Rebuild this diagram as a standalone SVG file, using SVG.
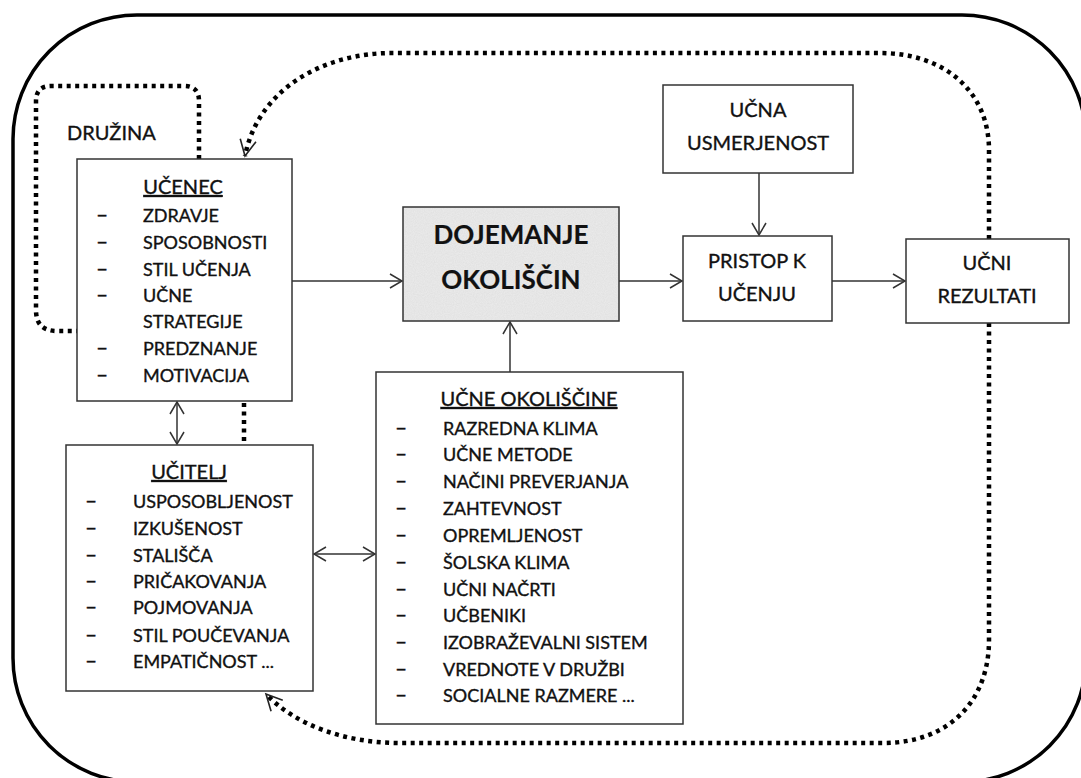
<svg xmlns="http://www.w3.org/2000/svg" width="1081" height="778" viewBox="0 0 1081 778">
<defs>
<marker id="arr" markerUnits="userSpaceOnUse" markerWidth="16" markerHeight="18" refX="13" refY="8" orient="auto-start-reverse" viewBox="0 0 16 18">
<path d="M1,1 L13,8 L1,15" fill="none" stroke="#333" stroke-width="1.5"/>
</marker>
<marker id="arrd" markerUnits="userSpaceOnUse" markerWidth="20" markerHeight="22" refX="17" refY="10" orient="auto" viewBox="0 0 20 22">
<path d="M1,2 L17,10 L1,18" fill="none" stroke="#222" stroke-width="1.6"/>
</marker>
<filter id="grain" x="0" y="0" width="100%" height="100%">
<feTurbulence type="fractalNoise" baseFrequency="0.9" numOctaves="2" seed="3" result="n"/>
<feColorMatrix in="n" type="matrix" values="0 0 0 0 0.55  0 0 0 0 0.55  0 0 0 0 0.55  0 0 0 0.35 0" result="g"/>
<feFlood flood-color="#ececec" result="bg"/>
<feComposite in="g" in2="bg" operator="over" result="c"/>
<feComposite in="c" in2="SourceGraphic" operator="in"/>
</filter>
</defs>
<style>
.box{fill:#fff;stroke:#333;stroke-width:1.5}
.t{font-family:Lato,"Liberation Sans",sans-serif;fill:#111;stroke:#111;stroke-width:0.35}
.it{font-size:18px}
.da{font-size:21px}
.ti{font-size:20px;text-anchor:middle;text-decoration:underline}
.lb{font-size:20px;text-anchor:middle}
.big{font-size:26px;font-weight:bold;text-anchor:middle;stroke-width:0.2}
.ln{fill:none;stroke:#333;stroke-width:1.5}
.dot{fill:none;stroke:#000;stroke-width:4.5;stroke-dasharray:4 4.5}
</style>
<rect width="1081" height="778" fill="#fff"/>
<rect id="frame" x="13" y="15" width="1073" height="767" rx="124" ry="124" fill="none" stroke="#000" stroke-width="3.5"/>

<g id="connectors">
<path class="dot" d="M199,159 V101 Q199,86 184,86 H51 Q36,86 36,101 V310 Q36,331 57,331 H77"/>
<path class="dot" d="M989,239 V150 C989,92 945,53 880,53 H392 C322,53 258,90 245,156" marker-end="url(#arrd)"/>
<path class="dot" d="M989,323 V640 C989,700 950,743 883,743 H400 C345,743 295,725 266,694" marker-end="url(#arrd)"/>
<path class="dot" d="M244,403 V445"/>
<line class="ln" x1="177" y1="402" x2="177" y2="444" marker-start="url(#arr)" marker-end="url(#arr)"/>
<line class="ln" x1="314" y1="554" x2="375" y2="554" marker-start="url(#arr)" marker-end="url(#arr)"/>
<line class="ln" x1="292" y1="281" x2="402" y2="281" marker-end="url(#arr)"/>
<line class="ln" x1="510" y1="372" x2="510" y2="322" marker-end="url(#arr)"/>
<line class="ln" x1="619" y1="281" x2="682" y2="281" marker-end="url(#arr)"/>
<line class="ln" x1="759" y1="173" x2="759" y2="235" marker-end="url(#arr)"/>
<line class="ln" x1="832" y1="281" x2="905" y2="281" marker-end="url(#arr)"/>
</g>

<g id="druzina">
<text class="t" x="67" y="140" font-size="20">DRUŽINA</text>
</g>

<g id="ucenec">
<rect class="box" x="77" y="159" width="215" height="242"/>
<text class="t ti" x="183" y="194">UČENEC</text>
<g class="t it">
<text class="da" x="96" y="222">–</text><text x="143" y="222">ZDRAVJE</text>
<text class="da" x="96" y="249">–</text><text x="143" y="249">SPOSOBNOSTI</text>
<text class="da" x="96" y="276">–</text><text x="143" y="276">STIL UČENJA</text>
<text class="da" x="96" y="302">–</text><text x="143" y="302">UČNE</text>
<text x="143" y="328">STRATEGIJE</text>
<text class="da" x="96" y="355">–</text><text x="143" y="355">PREDZNANJE</text>
<text class="da" x="96" y="382">–</text><text x="143" y="382">MOTIVACIJA</text>
</g>
</g>

<g id="ucitelj">
<rect class="box" x="66" y="445" width="247" height="246"/>
<text class="t ti" x="189" y="479">UČITELJ</text>
<g class="t it">
<text class="da" x="85" y="508">–</text><text x="133" y="508">USPOSOBLJENOST</text>
<text class="da" x="85" y="535">–</text><text x="133" y="535">IZKUŠENOST</text>
<text class="da" x="85" y="562">–</text><text x="133" y="562">STALIŠČA</text>
<text class="da" x="85" y="588">–</text><text x="133" y="588">PRIČAKOVANJA</text>
<text class="da" x="85" y="614">–</text><text x="133" y="614">POJMOVANJA</text>
<text class="da" x="85" y="642">–</text><text x="133" y="642">STIL POUČEVANJA</text>
<text class="da" x="85" y="668">–</text><text x="133" y="668">EMPATIČNOST ...</text>
</g>
</g>

<g id="okoliscine">
<rect class="box" x="376" y="372" width="307" height="352"/>
<text class="t ti" x="529" y="406">UČNE OKOLIŠČINE</text>
<g class="t it">
<text class="da" x="395" y="435">–</text><text x="443" y="435">RAZREDNA KLIMA</text>
<text class="da" x="395" y="461">–</text><text x="443" y="461">UČNE METODE</text>
<text class="da" x="395" y="488">–</text><text x="443" y="488">NAČINI PREVERJANJA</text>
<text class="da" x="395" y="515">–</text><text x="443" y="515">ZAHTEVNOST</text>
<text class="da" x="395" y="542">–</text><text x="443" y="542">OPREMLJENOST</text>
<text class="da" x="395" y="569">–</text><text x="443" y="569">ŠOLSKA KLIMA</text>
<text class="da" x="395" y="596">–</text><text x="443" y="596">UČNI NAČRTI</text>
<text class="da" x="395" y="622">–</text><text x="443" y="622">UČBENIKI</text>
<text class="da" x="395" y="649">–</text><text x="443" y="649">IZOBRAŽEVALNI SISTEM</text>
<text class="da" x="395" y="676">–</text><text x="443" y="676">VREDNOTE V DRUŽBI</text>
<text class="da" x="395" y="702">–</text><text x="443" y="702">SOCIALNE RAZMERE ...</text>
</g>
</g>

<g id="dojemanje">
<rect x="403" y="207" width="216" height="114" fill="#ececec" filter="url(#grain)"/>
<rect x="403" y="207" width="216" height="114" fill="none" stroke="#333" stroke-width="1.5"/>
<text class="t big" x="511" y="244">DOJEMANJE</text>
<text class="t big" x="511" y="289">OKOLIŠČIN</text>
</g>

<g id="usmerjenost">
<rect class="box" x="663" y="85" width="190" height="88"/>
<text class="t lb" x="758" y="117">UČNA</text>
<text class="t lb" x="758" y="150">USMERJENOST</text>
</g>

<g id="pristop">
<rect class="box" x="683" y="236" width="149" height="85"/>
<text class="t lb" x="757" y="268">PRISTOP K</text>
<text class="t lb" x="757" y="301">UČENJU</text>
</g>

<g id="rezultati">
<rect class="box" x="906" y="239" width="163" height="84"/>
<text class="t lb" x="987" y="270">UČNI</text>
<text class="t lb" x="987" y="303">REZULTATI</text>
</g>
</svg>
